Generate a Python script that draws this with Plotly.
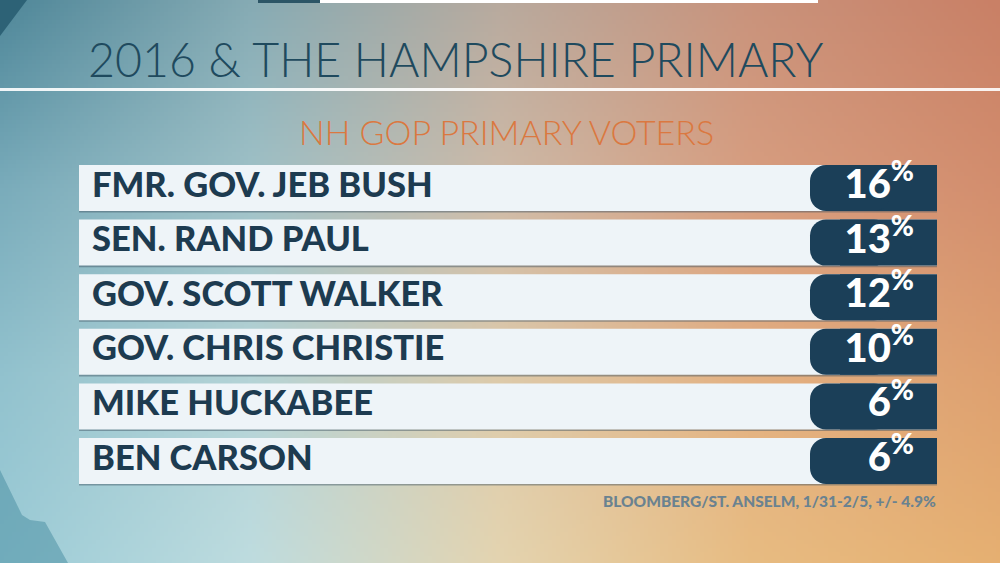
import numpy as np
import plotly.graph_objects as go

# ---- data ----
candidates = ["FMR. GOV. JEB BUSH", "SEN. RAND PAUL", "GOV. SCOTT WALKER",
              "GOV. CHRIS CHRISTIE", "MIKE HUCKABEE", "BEN CARSON"]
support_pct = [16, 13, 12, 10, 6, 6]
title_text = "2016 &amp; THE HAMPSHIRE PRIMARY"
subtitle_text = "NH GOP PRIMARY VOTERS"
source_text = "BLOOMBERG/ST. ANSELM, 1/31-2/5, +/- 4.9%"

# ---- background gradient (style) ----
anchors = np.array([
    [[0x4f, 0x87, 0x99], [0x86, 0xab, 0xb4], [0xb8, 0xaa, 0x9e], [0xc9, 0x93, 0x7c], [0xc9, 0x80, 0x66]],
    [[0x7a, 0xac, 0xbb], [0xa0, 0xc2, 0xc8], [0xcf, 0xbb, 0xa8], [0xd8, 0x9e, 0x80], [0xd3, 0x8e, 0x6e]],
    [[0x92, 0xc2, 0xce], [0xb4, 0xd3, 0xd6], [0xdd, 0xca, 0xaa], [0xe3, 0xb0, 0x82], [0xde, 0xa0, 0x70]],
    [[0x9c, 0xcc, 0xd7], [0xbe, 0xdc, 0xdf], [0xe4, 0xd4, 0xb0], [0xe8, 0xbc, 0x82], [0xe6, 0xb0, 0x72]],
], dtype=float)
W, H = 250, 141
gy = np.linspace(0, anchors.shape[0] - 1, H)
gx = np.linspace(0, anchors.shape[1] - 1, W)
y0i = np.clip(np.floor(gy).astype(int), 0, anchors.shape[0] - 2)
x0i = np.clip(np.floor(gx).astype(int), 0, anchors.shape[1] - 2)
fy = (gy - y0i)[:, None, None]
fx = (gx - x0i)[None, :, None]
a = anchors[y0i][:, x0i]
b = anchors[y0i][:, x0i + 1]
c = anchors[y0i + 1][:, x0i]
d = anchors[y0i + 1][:, x0i + 1]
bg = (a * (1 - fx) * (1 - fy) + b * fx * (1 - fy) + c * (1 - fx) * fy + d * fx * fy).astype(np.uint8)

fig = go.Figure()
fig.add_trace(go.Image(z=bg, x0=2, dx=4, y0=2, dy=4, xaxis="x", yaxis="y",
                       hoverinfo="skip", zsmooth="fast"))

# ---- rows ----
n = len(candidates)
row_h = 0.842
L, R, BOX_L = 79, 937, 810
BOX_COLOR = "#1b3f58"

fig.add_trace(go.Bar(y=candidates, x=[R - L] * n, base=[L] * n, orientation="h",
                     width=row_h, offset=-row_h / 2 + 0.03,
                     marker=dict(color="rgba(60,80,95,0.45)", line=dict(width=0)),
                     xaxis="x2", yaxis="y2", hoverinfo="skip"))
fig.add_trace(go.Bar(y=candidates, x=[R - L] * n, base=[L] * n, orientation="h",
                     width=row_h, offset=-row_h / 2,
                     marker=dict(color="#eef4f8", line=dict(width=0)),
                     xaxis="x2", yaxis="y2", hoverinfo="skip"))
# square right part of value box
fig.add_trace(go.Bar(y=candidates, x=[R - (BOX_L + 30)] * n, base=[BOX_L + 30] * n, orientation="h",
                     width=row_h, offset=-row_h / 2,
                     marker=dict(color=BOX_COLOR, line=dict(width=0)),
                     xaxis="x2", yaxis="y2", hoverinfo="skip"))
# rounded left end of value box
fig.add_trace(go.Bar(y=candidates, x=[80] * n, base=[BOX_L] * n, orientation="h",
                     width=row_h, offset=-row_h / 2,
                     marker=dict(color=BOX_COLOR, line=dict(width=0), cornerradius=16),
                     xaxis="x2", yaxis="y2", hoverinfo="skip"))
fig.add_trace(go.Scatter(y=candidates, x=[92] * n, mode="text", text=candidates,
                         textposition="middle right",
                         textfont=dict(family="Lato", size=34.5, color="#1d3b50", weight=900),
                         xaxis="x2", yaxis="y2", hoverinfo="skip"))
fig.add_trace(go.Scatter(y=candidates, x=[914] * n, mode="text",
                         text=[f"{v}<sup>%</sup>" for v in support_pct],
                         textposition="middle left",
                         textfont=dict(family="Lato", size=40, color="#ffffff", weight=900),
                         xaxis="x2", yaxis="y2", hoverinfo="skip"))

top_c, pitch = 188, 54.6
fig.update_layout(
    width=1000, height=563, margin=dict(l=0, r=0, t=0, b=0),
    showlegend=False, barmode="overlay",
    paper_bgcolor="#b9c4c4", plot_bgcolor="rgba(0,0,0,0)",
    xaxis=dict(range=[0, 1000], visible=False, domain=[0, 1]),
    yaxis=dict(range=[563, 0], visible=False, domain=[0, 1]),
    xaxis2=dict(range=[0, 1000], visible=False, overlaying="x", anchor="y2"),
    yaxis2=dict(type="category", range=[(563 - top_c) / pitch, (0 - top_c) / pitch],
                visible=False, overlaying="y", anchor="x2"),
)

def py(p):
    return 1 - p / 563

shapes = [
    dict(type="rect", xref="paper", yref="paper", x0=0, x1=1, y0=py(91), y1=py(88),
         fillcolor="rgba(255,255,255,0.9)", line=dict(width=0), layer="above"),
    dict(type="rect", xref="paper", yref="paper", x0=0.320, x1=0.818, y0=py(3), y1=1,
         fillcolor="#ffffff", line=dict(width=0), layer="above"),
    dict(type="rect", xref="paper", yref="paper", x0=0.258, x1=0.320, y0=py(3), y1=1,
         fillcolor="#2c5566", line=dict(width=0), layer="above"),
    dict(type="path", xref="paper", yref="paper",
         path=f"M 0 1 L 0.027 1 L 0 {py(36)} Z",
         fillcolor="#2d6276", line=dict(width=0), layer="above"),
    dict(type="path", xref="paper", yref="paper",
         path=f"M 0 {py(470)} L 0.022 {py(515)} L 0.030 {py(520)} L 0.045 {py(522)} "
              f"L 0.068 {py(563)} L 0 0 Z",
         fillcolor="rgba(70,140,160,0.5)", line=dict(width=0), layer="above"),
]
fig.update_layout(shapes=shapes)

fig.add_annotation(xref="paper", yref="paper", x=0.086, y=py(59), xanchor="left", yanchor="middle",
                   text=title_text, showarrow=False,
                   font=dict(family="Lato", size=46.5, color="#1f4a5e", weight=300))
fig.add_annotation(xref="paper", yref="paper", x=0.506, y=py(131), xanchor="center", yanchor="middle",
                   text=subtitle_text, showarrow=False,
                   font=dict(family="Lato", size=34, color="#db7840", weight=300))
fig.add_annotation(xref="paper", yref="paper", x=0.938, y=py(501), xanchor="right", yanchor="middle",
                   text=source_text, showarrow=False,
                   font=dict(family="Lato", size=15.5, color="#6a8290", weight=900))

fig.write_html("out.html", config={"displayModeBar": False, "staticPlot": True},
               post_script="document.body.style.margin='0';document.body.style.padding='0';")
